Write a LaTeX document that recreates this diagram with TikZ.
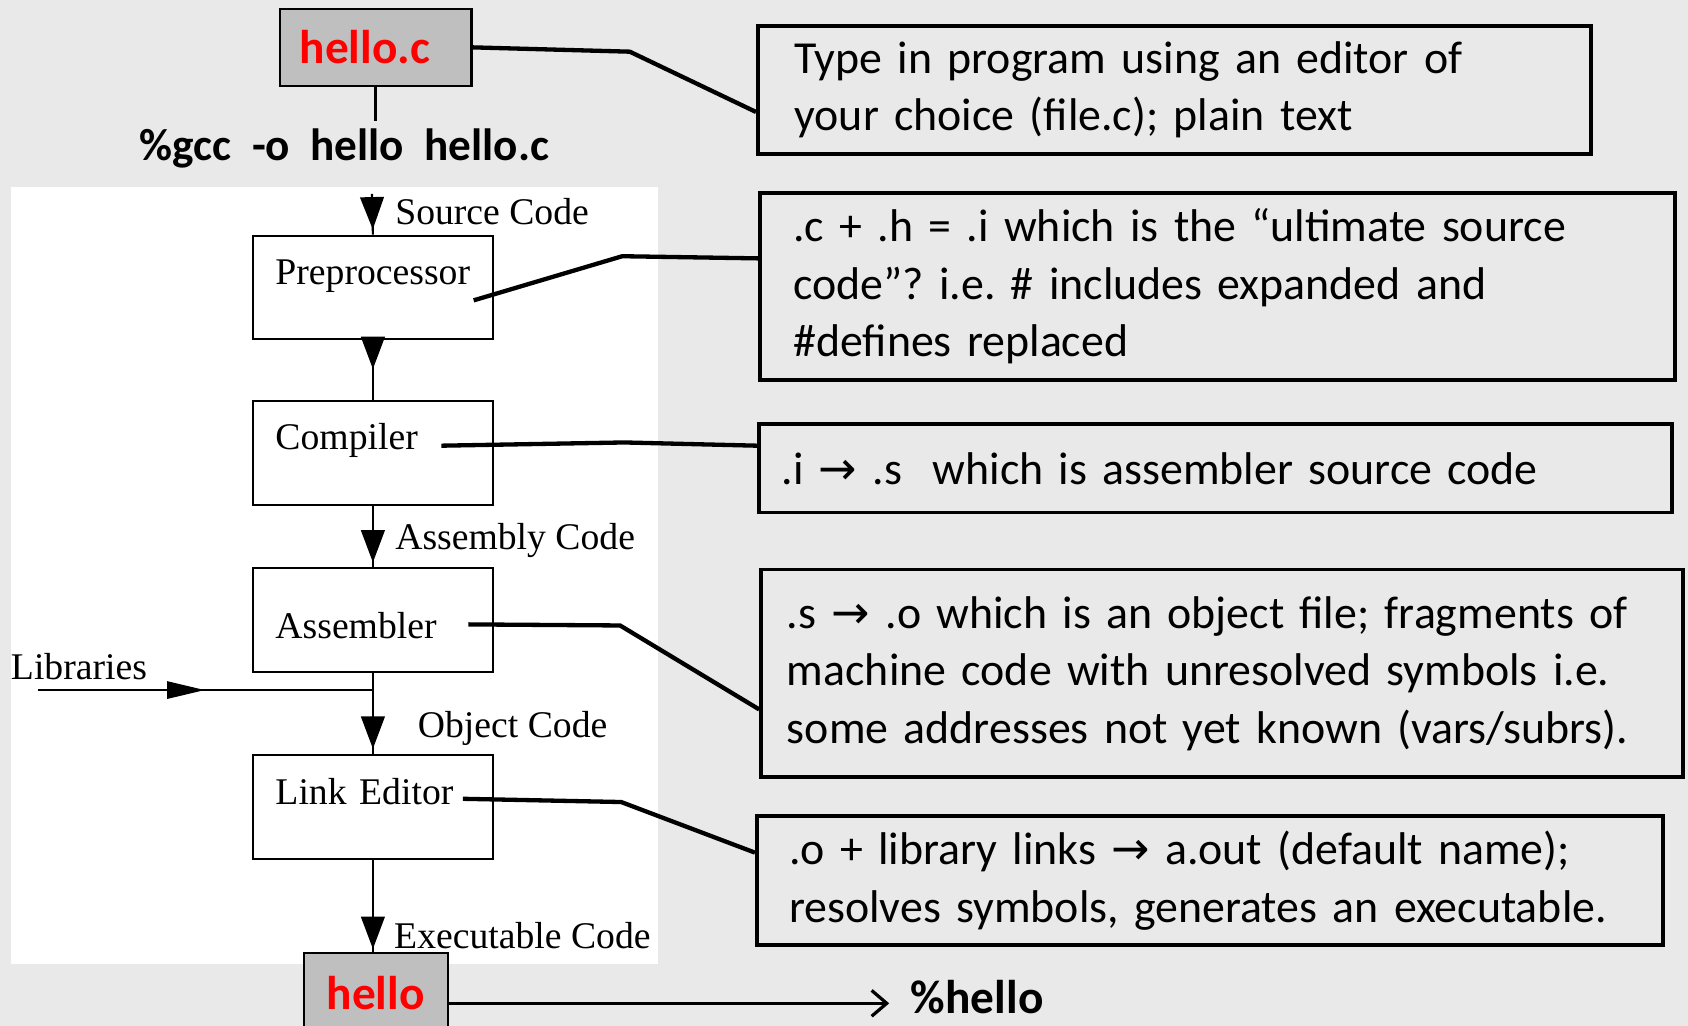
\documentclass[tikz,border=0pt]{standalone}
\usepackage{fontspec}
\setmainfont{Carlito}
\newfontfamily\oldserif{Liberation Serif}
\newfontfamily\symfont{DejaVu Sans}
\usetikzlibrary{arrows.meta,decorations.markings}
\definecolor{marble}{RGB}{233,233,233}
\definecolor{boxgray}{RGB}{191,191,191}
\newcommand\myarr{{\symfont →}}
\frenchspacing
\begin{document}
\begin{tikzpicture}[x=1pt,y=-1pt,
  note/.style={draw, line width=3.5pt, align=left, inner ysep=0pt, font=\fontsize{42.6}{53.5}\selectfont},
  stage/.style={draw, line width=1.8pt, minimum width=223pt, text width=181pt, inner xsep=21pt, inner ysep=0pt, align=left, font=\oldserif\fontsize{35}{40}\selectfont, anchor=north west},
  flow/.style={line width=2pt},
  lbl/.style={font=\oldserif\fontsize{35}{40}\selectfont, anchor=west, inner sep=0pt},
  lead/.style={line width=4pt},
  filebox/.style={draw, line width=2pt, fill=boxgray, font=\bfseries\fontsize{44}{50}\selectfont, text=red},
  cmd/.style={font=\bfseries\fontsize{42}{50}\selectfont},
  midarrow/.style={postaction={decorate}, decoration={markings, mark=at position #1 with {\arrow{Triangle[length=30pt,width=22pt]}}}},
  sidearrow/.style={postaction={decorate}, decoration={markings, mark=at position #1 with {\arrow{Triangle[length=35pt,width=16pt]}}}}
]
\useasboundingbox (0,0) rectangle (1568,953);
\fill[marble] (0,0) rectangle (1568,953);
\fill[white] (10,174) rectangle (611,895);

% top file and command
\node[filebox, minimum width=178pt, minimum height=72pt] (hc) at (349,44) {hello.c\hspace*{20pt}};
\coordinate (hcdown) at (349,112);
\draw[line width=2.5pt] (hc.south) -- (hcdown);
\node[cmd] (gcc) at (320,138) {\%gcc~~-o~~hello~~hello.c};

% stages
\node[stage, text height=45pt, text depth=51pt] (pre) at (234,218) {Preprocessor};
\node[stage, text height=45pt, text depth=51pt] (comp) at (234,372) {Compiler};
\node[stage, text height=65pt, text depth=31pt] (asm) at (234,527) {Assembler};
\node[stage, text height=46pt, text depth=51pt] (link) at (234,700) {Link Editor};

\node[filebox, minimum width=134pt, minimum height=75pt] (hello) at (349,922.5) {hello};

% flow
\coordinate (src) at (345.5,180);
\draw[flow, midarrow=0.87] (src) -- (pre.north);
\draw[flow, midarrow=0.48] (pre.south) -- (comp.north);
\draw[flow, midarrow=0.92] (comp.south) -- (asm.north);
\draw[flow, midarrow=0.94] (asm.south) -- (link.north);
\draw[flow, midarrow=0.97] (link.south) -- (link.south |- hello.north);
\coordinate (libstart) at (35,641);
\coordinate (libjoin) at (345.5,641);
\draw[flow, sidearrow=0.5] (libstart) -- (libjoin);

% flow labels
\node[lbl] (lsrc) at (367,197) {Source Code};
\node[lbl] (lasm) at (367,502) {Assembly Code};
\node[lbl] (lobj) at (388,677) {Object Code};
\node[lbl] (lexe) at (366,869) {Executable Code};
\node[lbl] (llib) at (10,619) {Libraries};

% run
\node[cmd, font=\bfseries\fontsize{44}{50}\selectfont, anchor=west, inner sep=0pt] (run) at (846,926) {\%hello};
\coordinate (runin) at ([xshift=-20pt]run.west);
\coordinate (hout) at ([yshift=-9.5pt]hello.east);
\draw[line width=3pt, -{Straight Barb[length=14pt,width=24pt]}] (hout) -- (hout -| runin);

% notes
\node[note, minimum width=774pt, minimum height=119pt, text width=706pt, inner xsep=34pt] (n1) at (1091,83.5)
  {Type in program using an editor of\\your choice (file.c); plain text};
\node[note, minimum width=850pt, minimum height=174pt, text width=788pt, inner xsep=31pt] (n2) at (1131,266)
  {.c + .h = .i which is the “ultimate source\\code”? i.e. \# includes expanded and\\\#defines replaced};
\node[note, minimum width=848pt, minimum height=82pt, text width=806pt, inner xsep=21pt] (n3) at (1129,435)
  {.i \myarr{} .s~~which is assembler source code};
\node[note, minimum width=856pt, minimum height=193pt, text width=808pt, inner xsep=24pt] (n4) at (1135,625.5)
  {.s \myarr{} .o which is an object file; fragments of\\machine code with unresolved symbols i.e.\\some addresses not yet known (vars/subrs).};
\node[note, minimum width=842pt, minimum height=120pt, text width=782pt, inner xsep=30pt] (n5) at (1124,818)
  {.o + library links \myarr{} a.out (default name);\\resolves symbols, generates an executable.};

% leaders
\coordinate (p2) at (440,279);
\coordinate (c3) at (410,414);
\coordinate (a4) at (435,580);
\coordinate (l5) at (430,742);
\draw[lead] (hc.east) -- (585,48) -- ([yshift=-20.5pt]n1.west);
\draw[lead] (p2) -- (578,238) -- ([yshift=26pt]n2.west);
\draw[lead] (c3) -- (580,411) -- ([yshift=21pt]n3.west);
\draw[lead] (a4) -- (576,581) -- ([yshift=-33.5pt]n4.west);
\draw[lead] (l5) -- (577,745) -- ([yshift=26pt]n5.west);
\end{tikzpicture}
\end{document}
